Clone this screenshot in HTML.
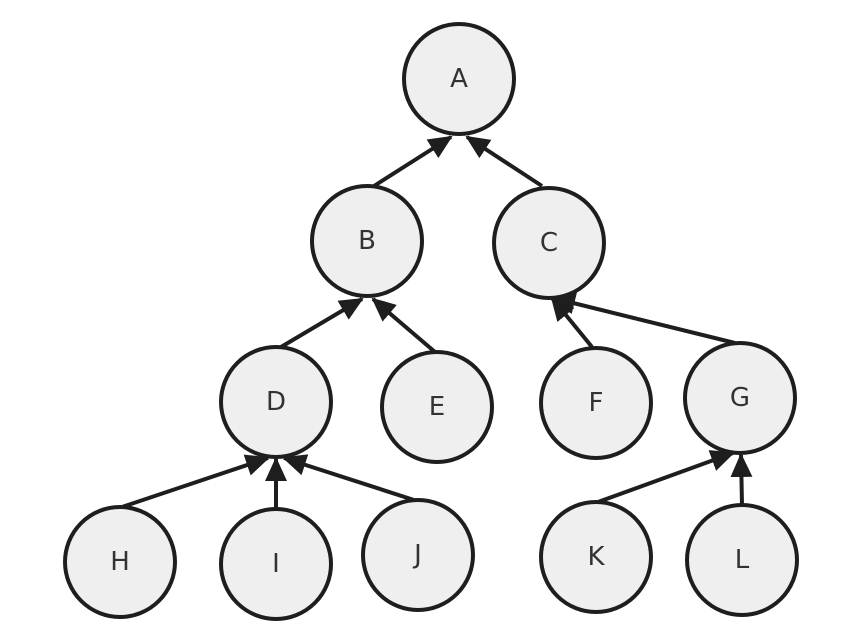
<!DOCTYPE html>
<html><head><meta charset="utf-8"><style>
html,body{margin:0;padding:0;background:#fff;}
svg{display:block;}
text{font-family:"DejaVu Sans","Liberation Sans",sans-serif;font-size:26px;fill:#333;text-anchor:middle;dominant-baseline:central;}
circle{fill:#efefef;stroke:#1e1e1e;stroke-width:4;}
line{stroke:#1e1e1e;stroke-width:4;}
</style></head><body>
<svg width="861" height="641" viewBox="0 0 861 641" xmlns="http://www.w3.org/2000/svg">
<defs>
<marker id="ar" markerUnits="userSpaceOnUse" markerWidth="24" markerHeight="22" refX="22" refY="11" orient="auto">
<path d="M0,0 L24,11 L0,22 z" fill="#1e1e1e"/>
</marker>
</defs>
<line x1="374" y1="186" x2="451" y2="137" marker-end="url(#ar)"/>
<line x1="542" y1="186" x2="467" y2="137" marker-end="url(#ar)"/>
<line x1="281" y1="347" x2="362" y2="299" marker-end="url(#ar)"/>
<line x1="435" y1="352" x2="373" y2="299" marker-end="url(#ar)"/>
<line x1="592" y1="347" x2="552" y2="298" marker-end="url(#ar)"/>
<line x1="735" y1="343" x2="553" y2="298" marker-end="url(#ar)"/>
<line x1="122" y1="507" x2="268" y2="458" marker-end="url(#ar)"/>
<line x1="276" y1="509" x2="276" y2="459" marker-end="url(#ar)"/>
<line x1="414" y1="500" x2="284" y2="458" marker-end="url(#ar)"/>
<line x1="598" y1="502" x2="733" y2="453" marker-end="url(#ar)"/>
<line x1="742" y1="505" x2="741" y2="455" marker-end="url(#ar)"/>
<circle cx="459" cy="79" r="55"/><text x="459" y="79">A</text>
<circle cx="367" cy="241" r="55"/><text x="367" y="241">B</text>
<circle cx="549" cy="243" r="55"/><text x="549" y="243">C</text>
<circle cx="276" cy="402" r="55"/><text x="276" y="402">D</text>
<circle cx="437" cy="407" r="55"/><text x="437" y="407">E</text>
<circle cx="596" cy="403" r="55"/><text x="596" y="403">F</text>
<circle cx="740" cy="398" r="55"/><text x="740" y="398">G</text>
<circle cx="120" cy="562" r="55"/><text x="120" y="562">H</text>
<circle cx="276" cy="564" r="55"/><text x="276" y="564">I</text>
<circle cx="418" cy="555" r="55"/><text x="418" y="555">J</text>
<circle cx="596" cy="557" r="55"/><text x="596" y="557">K</text>
<circle cx="742" cy="560" r="55"/><text x="742" y="560">L</text>
</svg>
</body></html>
